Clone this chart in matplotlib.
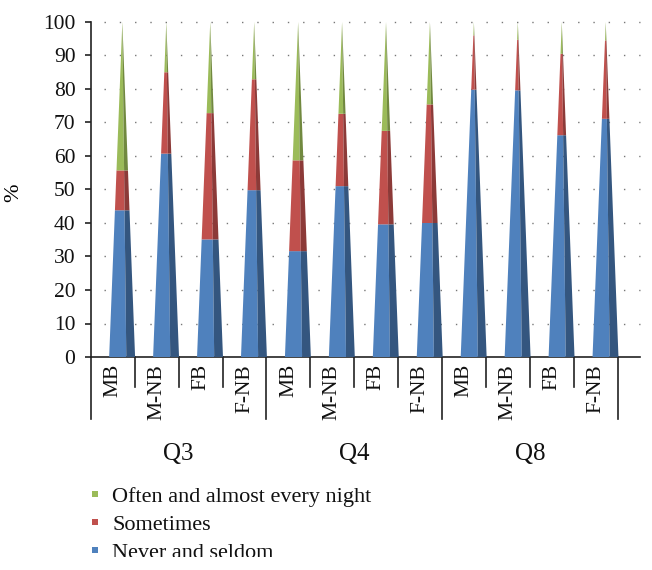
import matplotlib
matplotlib.use("Agg")
import matplotlib.pyplot as plt
from matplotlib.patches import Polygon
import matplotlib.transforms as mtransforms

categories = ["MB", "M-NB", "FB", "F-NB"] * 3
groups = ["Q3", "Q4", "Q8"]
never = [43.8, 60.7, 35.1, 49.8, 31.6, 51.0, 39.6, 40.0, 79.8, 79.6, 66.2, 71.1]
sometimes = [11.9, 24.3, 37.7, 33.1, 27.1, 21.6, 27.9, 35.4, 16.2, 15.1, 24.3, 23.4]
often = [44.3, 15.0, 27.2, 17.1, 41.3, 27.4, 32.5, 24.6, 4.0, 5.3, 9.5, 5.5]
series = [("Never and seldom", never), ("Sometimes", sometimes),
          ("Often and almost every night", often)]
colors = {"Never and seldom": ("#4F81BD", "#34567F"),
          "Sometimes": ("#C0504D", "#8C3A38"),
          "Often and almost every night": ("#9BBB59", "#71893F")}

W, H = 652, 570
fig = plt.figure(figsize=(W / 100, H / 100), dpi=100)
serif = "Liberation Serif"
ax_l, ax_r, ax_t, ax_b = 90.7, 640, 22, 357
ax = fig.add_axes([ax_l / W, 1 - ax_b / H, (ax_r - ax_l) / W, (ax_b - ax_t) / H])
ax.set_xlim(-0.5, 12.0)
ax.set_ylim(0, 100)

# gridlines (back wall, dotted)
for v in range(10, 101, 10):
    ax.plot([-0.5 + 0.3, 12.0], [v, v], color="#777777", lw=1.0,
            linestyle=(0, (1, 10)), zorder=1, clip_on=False)

# pyramids
off = 0.22
hl, hm, hr = 0.30, 0.09, 0.29
for i in range(len(categories)):
    c = i + off
    total = sum(s[1][i] for s in series)
    base = 0.0
    for name, vals in series:
        y0, y1 = base, base + vals[i]
        f0, f1 = 1 - y0 / total, 1 - y1 / total
        front, side = colors[name]
        ax.add_patch(Polygon([(c - hl * f0, y0), (c + hm * f0, y0),
                              (c + hm * f1, y1), (c - hl * f1, y1)],
                             closed=True, facecolor=front, edgecolor="none", zorder=3))
        ax.add_patch(Polygon([(c + hm * f0, y0), (c + hr * f0, y0),
                              (c + hr * f1, y1), (c + hm * f1, y1)],
                             closed=True, facecolor=side, edgecolor="none", zorder=3))
        base = y1

# axes styling
for s in ["top", "right"]:
    ax.spines[s].set_visible(False)
ax.spines["left"].set_color("#222222")
ax.spines["bottom"].set_color("#222222")
ax.spines["left"].set_linewidth(1.2)
ax.spines["bottom"].set_linewidth(1.2)
ax.set_yticks(range(0, 101, 10))
ax.set_yticklabels([str(v) for v in range(0, 101, 10)], fontfamily=serif, fontsize=15.5)
ax.tick_params(axis="y", length=4, width=1.2, pad=7, colors="#222222", labelcolor="#111111")
ax.set_xticks([])
ax.set_ylabel("%", fontfamily=serif, fontsize=16)
ax.yaxis.set_label_coords((23 - ax_l) / (ax_r - ax_l), (ax_b - 193) / (ax_b - ax_t))

# category labels and separators
trans = mtransforms.blended_transform_factory(ax.transData, ax.transAxes)
ah = ax_b - ax_t
for i, lab in enumerate(categories):
    ax.text(i, -7 / ah, lab, transform=trans, rotation=90, ha="center", va="top",
            fontfamily=serif, fontsize=15.5, color="#111111")
for k in range(13):
    long = (k % 4 == 0)
    yb = -62 / ah if long else -30 / ah
    ax.plot([k - 0.5, k - 0.5], [0, yb], transform=trans, color="#222222",
            lw=1.2, clip_on=False)
for g, name in enumerate(groups):
    ax.text(4 * g + 1.5, -97 / ah, name, transform=trans, ha="center", va="center",
            fontfamily=serif, fontsize=18, color="#111111")

# legend (manual, bottom)
leg_rows = [("Often and almost every night", 502), ("Sometimes", 530),
            ("Never and seldom", 558)]
for name, y in leg_rows:
    fig.patches.append(plt.Rectangle(((95 - 3) / W, 1 - (y - 5) / H), 6 / W, 6 / H,
                                     transform=fig.transFigure, facecolor=colors[name][0],
                                     edgecolor="none"))
    fig.text(112 / W, 1 - y / H, name, ha="left", va="baseline",
             fontfamily=serif, fontsize=16, color="#111111")

# the reference is cut just above the last legend row's baseline
fig.patches.append(plt.Rectangle((0, 0), 1, (H - 556.5) / H, transform=fig.transFigure,
                                 facecolor="white", edgecolor="none", zorder=100))

fig.savefig("out.png", dpi=100)
